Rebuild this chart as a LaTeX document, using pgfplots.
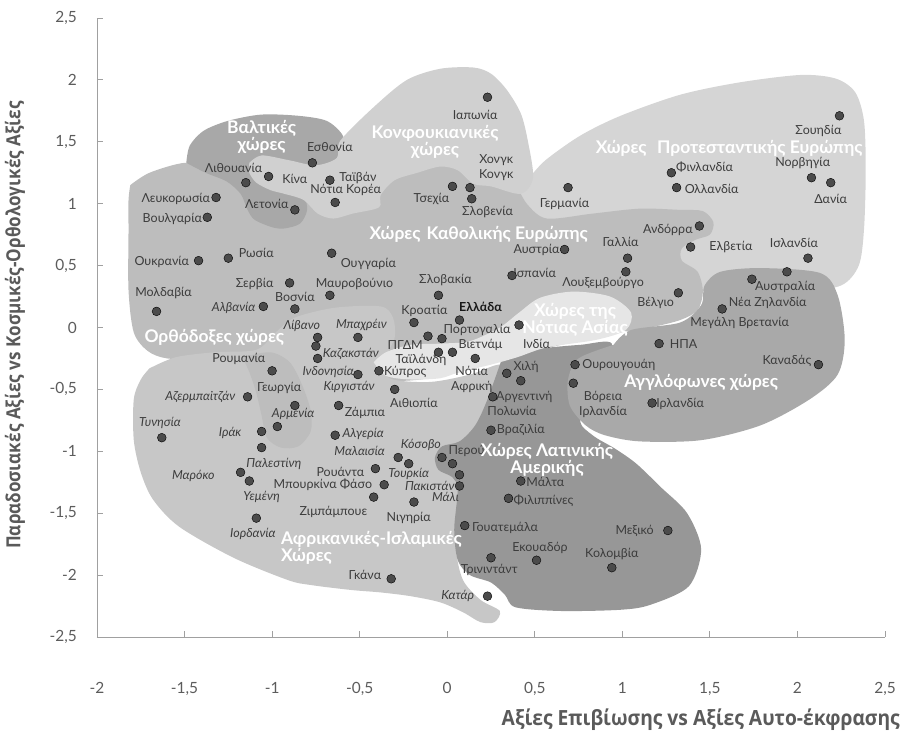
\documentclass[border=0pt]{standalone}
\usepackage{fontspec}
\setmainfont{Lato}
\newfontfamily\condfontx[FakeStretch=0.92]{Open Sans}
\newfontfamily\condfonty[FakeStretch=0.88]{Open Sans}
\usepackage{pgfplots}
\pgfplotsset{compat=1.18}
\definecolor{protc}{HTML}{D5D5D5}
\definecolor{confc}{HTML}{D0D0D0}
\definecolor{basec}{HTML}{BDBDBD}
\definecolor{baltc}{HTML}{A8A8A8}
\definecolor{afrc}{HTML}{C7C7C7}
\definecolor{latc}{HTML}{979797}
\definecolor{engc}{HTML}{A9A9A9}
\definecolor{sasc}{HTML}{E6E6E6}
\definecolor{dotc}{HTML}{4B4B4B}
\definecolor{labc}{HTML}{3C3C3C}
\definecolor{titc}{HTML}{5A5A5A}
\definecolor{axc}{HTML}{A0A0A0}
\definecolor{ticc}{HTML}{5C5C5C}
\newcommand{\lb}[3][]{\node[lbl,#1] at (axis cs:#2) {#3};}
\begin{document}
\begin{tikzpicture}[
  lbl/.style={font=\fontsize{12.5}{14.5}\selectfont, text=labc, inner sep=0pt, align=center},
  it/.style={font=\itshape\fontsize{12.5}{14.5}\selectfont},
  reg/.style={font=\bfseries\fontsize{17.5}{17}\selectfont, text=white, inner sep=0pt, align=center}]
\useasboundingbox (-97bp,-98bp) rectangle (806bp,637bp);
\begin{axis}[
  at={(0,0)}, anchor=south west, scale only axis,
  width=788bp, height=619bp,
  xmin=-2, xmax=2.5, ymin=-2.5, ymax=2.5,
  axis x line=bottom, axis y line=left,
  axis line style={-, draw=axc, line width=0.9bp},
  every tick/.style={draw=axc, line width=0.9bp},
  major tick length=6bp, tick align=inside,
  xtick={-2,-1.5,-1,-0.5,0,0.5,1,1.5,2,2.5},
  ytick={-2.5,-2,-1.5,-1,-0.5,0,0.5,1,1.5,2,2.5},
  xticklabel={\pgfmathprintnumber[assume math mode=true,use comma]{\tick}},
  yticklabel={\pgfmathprintnumber[assume math mode=true,use comma]{\tick}},
  tick label style={font=\fontsize{15.5}{16}\selectfont, text=ticc},
  yticklabel style={anchor=east, inner sep=0pt, xshift=-20bp},
  xticklabel style={anchor=north, inner sep=0pt, yshift=-45bp},
  clip=false,
]
% Protestant Europe
\addplot[draw=none, fill=protc, smooth] coordinates {
(0.47,1.21) (0.56,1.35) (0.76,1.55) (0.99,1.71) (1.33,1.88) (1.67,1.98) (2.02,2.04) (2.22,2.01) (2.33,1.90) (2.38,1.67) (2.39,1.27) (2.38,0.79) (2.35,0.50) (2.25,0.34) (2.02,0.29) (1.67,0.29) (1.45,0.30) (1.10,0.54) (0.65,0.71) (0.42,0.91) (0.39,1.07) (0.47,1.21)} -- cycle;
% Orthodox / Catholic base
\addplot[draw=none, fill=basec, smooth] coordinates {
(-1.81,1.15) (-1.70,1.25) (-1.50,1.33) (-1.33,1.29) (-1.13,1.25) (-0.84,1.19) (-0.61,1.19) (-0.38,1.25) (-0.04,1.33) (0.30,1.29) (0.39,1.15) (0.46,0.99) (0.57,0.88) (0.83,0.92) (1.10,0.96) (1.33,0.95) (1.46,0.94) (1.52,0.85) (1.50,0.75) (1.42,0.71) (1.34,0.64) (1.34,0.54) (1.43,0.45) (1.46,0.29) (1.43,0.14) (1.33,0.06) (1.16,0.00) (0.99,-0.04) (0.65,-0.14) (0.33,-0.25) (0.13,-0.34) (-0.15,-0.42) (-0.38,-0.42) (-0.67,-0.28) (-1.09,-0.20) (-1.24,-0.23) (-1.41,-0.25) (-1.60,-0.25) (-1.71,-0.19) (-1.79,-0.04) (-1.82,0.30) (-1.82,0.79) (-1.82,1.03) (-1.81,1.15)} -- cycle;
% Baltic
\addplot[draw=none, fill=baltc, smooth] coordinates {
(-1.49,1.33) (-1.47,1.47) (-1.39,1.59) (-1.25,1.67) (-1.06,1.72) (-0.85,1.71) (-0.69,1.67) (-0.60,1.56) (-0.58,1.43) (-0.61,1.31) (-0.73,1.25) (-0.81,1.11) (-0.80,0.95) (-0.84,0.84) (-0.93,0.80) (-1.00,0.81) (-1.10,0.87) (-1.14,0.95) (-1.18,1.08) (-1.26,1.18) (-1.38,1.25) (-1.49,1.33)} -- cycle;
% Confucian
\addplot[draw=none, fill=confc, smooth] coordinates {
(-1.13,1.33) (-1.06,1.39) (-0.90,1.35) (-0.75,1.31) (-0.63,1.37) (-0.61,1.51) (-0.42,1.78) (-0.23,2.00) (-0.04,2.09) (0.15,2.10) (0.25,2.05) (0.34,1.92) (0.42,1.73) (0.46,1.51) (0.49,1.21) (0.42,1.08) (0.25,1.14) (0.15,1.16) (0.06,1.27) (-0.04,1.30) (-0.17,1.25) (-0.30,1.19) (-0.38,1.07) (-0.39,0.97) (-0.54,0.92) (-0.65,0.88) (-0.74,0.92) (-0.82,1.03) (-0.93,1.08) (-1.01,1.11) (-1.09,1.17) (-1.13,1.25) (-1.13,1.33)} -- cycle;
% African-Islamic
\addplot[draw=none, fill=afrc, smooth] coordinates {
(-1.70,-0.33) (-1.55,-0.24) (-1.33,-0.20) (-1.09,-0.18) (-0.98,-0.04) (-0.87,0.08) (-0.64,0.16) (-0.38,0.17) (-0.31,0.08) (-0.30,-0.08) (-0.35,-0.25) (-0.33,-0.41) (-0.10,-0.44) (0.13,-0.38) (0.30,-0.30) (0.33,-0.42) (0.25,-0.67) (0.16,-0.91) (0.09,-1.15) (0.06,-1.47) (0.05,-1.79) (0.09,-2.04) (0.19,-2.20) (0.30,-2.29) (0.27,-2.38) (0.19,-2.38) (0.09,-2.30) (-0.04,-2.22) (-0.21,-2.17) (-0.38,-2.14) (-0.55,-2.12) (-0.78,-2.08) (-0.91,-2.04) (-1.22,-1.86) (-1.53,-1.61) (-1.68,-1.39) (-1.75,-1.17) (-1.79,-0.91) (-1.79,-0.58) (-1.75,-0.42) (-1.70,-0.33)} -- cycle;
% Orthodox lobe (Georgia, Armenia)
\addplot[draw=none, fill=basec, smooth] coordinates {
(-1.17,-0.24) (-1.01,-0.20) (-0.90,-0.28) (-0.83,-0.46) (-0.78,-0.67) (-0.78,-0.84) (-0.85,-0.96) (-0.95,-0.97) (-1.03,-0.89) (-1.06,-0.71) (-1.09,-0.53) (-1.13,-0.36) (-1.17,-0.24)} -- cycle;
% Latin America
\addplot[draw=none, fill=latc, smooth] coordinates {
(0.32,-0.22) (0.53,-0.17) (0.76,-0.14) (0.94,-0.13) (0.87,-0.42) (0.76,-0.74) (0.83,-0.87) (0.96,-0.98) (1.08,-1.10) (1.22,-1.29) (1.37,-1.50) (1.45,-1.79) (1.38,-2.09) (1.16,-2.24) (0.99,-2.28) (0.65,-2.29) (0.39,-2.26) (0.33,-2.16) (0.25,-2.06) (0.13,-2.00) (0.06,-1.88) (0.04,-1.63) (0.06,-1.31) (0.03,-1.21) (-0.05,-1.15) (-0.07,-1.05) (-0.03,-0.96) (0.07,-0.92) (0.16,-0.79) (0.23,-0.58) (0.32,-0.22)} -- cycle;
% English-speaking
\addplot[draw=none, fill=engc, smooth] coordinates {
(0.95,-0.14) (1.05,-0.02) (1.33,0.04) (1.45,0.18) (1.47,0.34) (1.56,0.45) (1.79,0.48) (2.13,0.44) (2.23,0.26) (2.27,-0.10) (2.23,-0.38) (2.07,-0.58) (1.79,-0.79) (1.45,-0.91) (1.10,-0.92) (0.90,-0.87) (0.79,-0.79) (0.70,-0.63) (0.69,-0.42) (0.75,-0.25) (0.95,-0.14)} -- cycle;
% South Asia
\addplot[draw=none, fill=sasc, smooth] coordinates {
(-0.42,-0.28) (-0.35,-0.20) (-0.21,-0.14) (-0.04,-0.13) (0.13,-0.11) (0.30,0.00) (0.41,0.12) (0.53,0.24) (0.72,0.29) (0.93,0.25) (1.05,0.12) (1.02,-0.02) (0.85,-0.10) (0.57,-0.16) (0.40,-0.24) (0.25,-0.30) (0.07,-0.36) (-0.04,-0.41) (-0.21,-0.42) (-0.35,-0.39) (-0.42,-0.28)} -- cycle;
% Countries
\addplot[only marks, mark=*, mark size=4.4bp, mark options={fill=dotc, draw=none}] coordinates {
(2.24,1.71) (1.28,1.25) (1.31,1.13) (2.08,1.21) (2.19,1.17) (1.44,0.82) (1.39,0.65) (2.06,0.56) (1.74,0.39) (1.94,0.45) (1.57,0.15) (1.32,0.28) (1.21,-0.13) (2.12,-0.30) (1.17,-0.61) (0.73,-0.30) (0.72,-0.45) (0.23,1.86) (0.13,1.13) (0.03,1.14) (0.14,1.04) (0.69,1.13) (0.67,0.63) (1.03,0.56) (0.37,0.42) (1.02,0.45) (-0.77,1.33) (-1.15,1.17) (-1.02,1.22) (-0.67,1.19) (-0.64,1.01) (-1.32,1.05) (-1.37,0.89) (-0.87,0.95) (-1.42,0.54) (-1.25,0.56) (-0.66,0.60) (-0.90,0.36) (-0.67,0.26) (-1.66,0.13) (-1.05,0.17) (-0.87,0.15) (-0.74,-0.08) (-0.75,-0.15) (-0.74,-0.25) (-0.51,-0.08) (-1.00,-0.35) (-0.51,-0.38) (-0.39,-0.35) (-0.30,-0.50) (-1.14,-0.56) (-0.87,-0.63) (-0.62,-0.63) (-0.97,-0.80) (-1.06,-0.84) (-0.64,-0.87) (-1.63,-0.89) (-1.06,-0.97) (-1.18,-1.17) (-1.13,-1.24) (-1.09,-1.54) (-0.28,-1.05) (-0.22,-1.10) (-0.41,-1.14) (-0.36,-1.27) (-0.42,-1.37) (-0.19,-1.41) (-0.03,-1.05) (0.03,-1.10) (0.07,-1.19) (0.07,-1.28) (-0.32,-2.03) (0.23,-2.17) (0.10,-1.60) (0.25,-1.86) (0.51,-1.88) (0.94,-1.94) (1.26,-1.64) (0.42,-1.24) (0.35,-1.38) (0.25,-0.83) (0.26,-0.56) (0.42,-0.43) (0.34,-0.37) (0.16,-0.25) (0.41,0.02) (0.03,-0.20) (-0.05,-0.20) (-0.03,-0.09) (-0.11,-0.07) (-0.19,0.04) (0.07,0.06) (-0.05,0.26)};
% Country labels
\lb{2.12,1.59}{Σουηδία}
\lb{1.47,1.30}{Φινλανδία}
\lb{1.51,1.12}{Ολλανδία}
\lb{2.03,1.33}{Νορβηγία}
\lb{2.19,1.04}{Δανία}
\lb{1.26,0.79}{Ανδόρρα}
\lb{1.62,0.65}{Ελβετία}
\lb{1.98,0.68}{Ισλανδία}
\lb{1.93,0.33}{Αυστραλία}
\lb{1.83,0.20}{Νέα Ζηλανδία}
\lb{1.67,0.04}{Μεγάλη Βρετανία}
\lb{1.19,0.20}{Βέλγιο}
\lb{1.35,-0.13}{ΗΠΑ}
\lb{1.94,-0.27}{Καναδάς}
\lb{1.33,-0.62}{Ιρλανδία}
\lb{0.98,-0.30}{Ουρουγουάη}
\lb{0.89,-0.62}{Βόρεια\\Ιρλανδία}
\lb{0.16,1.72}{Ιαπωνία}
\lb{0.28,1.29}{Χονγκ\\Κονγκ}
\lb{-0.09,1.04}{Τσεχία}
\lb{0.23,0.93}{Σλοβενία}
\lb{0.67,1.00}{Γερμανία}
\lb{0.51,0.63}{Αυστρία}
\lb{0.99,0.69}{Γαλλία}
\lb{0.50,0.44}{Ισπανία}
\lb{0.89,0.36}{Λουξεμβούργο}
\lb{-0.67,1.46}{Εσθονία}
\lb{-1.22,1.29}{Λιθουανία}
\lb{-0.87,1.20}{Κίνα}
\lb{-0.51,1.21}{Ταϊβάν}
\lb{-0.58,1.11}{Νότια Κορέα}
\lb{-1.55,1.04}{Λευκορωσία}
\lb{-1.57,0.88}{Βουλγαρία}
\lb{-1.03,1.00}{Λετονία}
\lb{-1.63,0.53}{Ουκρανία}
\lb{-1.09,0.60}{Ρωσία}
\lb{-0.45,0.51}{Ουγγαρία}
\lb{-1.10,0.35}{Σερβία}
\lb{-0.53,0.35}{Μαυροβούνιο}
\lb{-1.62,0.28}{Μολδαβία}
\lb[it]{-1.22,0.16}{Αλβανία}
\lb{-0.87,0.25}{Βοσνία}
\lb[it]{-0.83,0.01}{Λίβανο}
\lb[it]{-0.49,0.02}{Μπαχρέιν}
\lb[it]{-0.55,-0.21}{Καζακστάν}
\lb[it]{-0.68,-0.36}{Ινδονησία}
\lb[it]{-0.56,-0.48}{Κιργιστάν}
\lb{-1.19,-0.25}{Ρουμανία}
\lb{-0.24,-0.36}{Κύπρος}
\lb{-0.19,-0.61}{Αιθιοπία}
\lb{-0.96,-0.49}{Γεωργία}
\lb{-0.47,-0.69}{Ζάμπια}
\lb[it]{-1.41,-0.56}{Αζερμπαϊτζάν}
\lb[it]{-0.88,-0.70}{Αρμενία}
\lb[it]{-1.64,-0.77}{Τυνησία}
\lb[it]{-1.24,-0.85}{Ιράκ}
\lb[it]{-0.48,-0.86}{Αλγερία}
\lb[it]{-0.50,-1.00}{Μαλαισία}
\lb[it]{-0.15,-0.95}{Κόσοβο}
\lb{0.11,-1.00}{Περού}
\lb[it]{-0.99,-1.10}{Παλεστίνη}
\lb[it]{-1.45,-1.20}{Μαρόκο}
\lb[it]{-1.06,-1.37}{Υεμένη}
\lb{-0.61,-1.17}{Ρουάντα}
\lb[it]{-0.22,-1.18}{Τουρκία}
\lb{-0.71,-1.27}{Μπουρκίνα Φάσο}
\lb[it]{-0.10,-1.28}{Πακιστάν}
\lb[it]{-0.01,-1.37}{Μάλι}
\lb{-0.65,-1.49}{Ζιμπάμπουε}
\lb{-0.22,-1.54}{Νιγηρία}
\lb[it]{-1.11,-1.67}{Ιορδανία}
\lb{-0.47,-2.00}{Γκάνα}
\lb[it]{0.06,-2.17}{Κατάρ}
\lb{0.33,-1.62}{Γουατεμάλα}
\lb{0.24,-1.96}{Τρινιντάντ}
\lb{0.53,-1.78}{Εκουαδόρ}
\lb{0.94,-1.83}{Κολομβία}
\lb{1.07,-1.64}{Μεξικό}
\lb{0.56,-1.25}{Μάλτα}
\lb{0.55,-1.40}{Φιλιππίνες}
\lb{0.42,-0.83}{Βραζιλία}
\lb{0.37,-0.67}{Πολωνία}
\lb{0.44,-0.56}{Αργεντινή}
\lb{0.45,-0.32}{Χιλή}
\lb{0.14,-0.42}{Νότια\\Αφρική}
\lb{0.51,-0.13}{Ινδία}
\lb{0.19,-0.14}{Βιετνάμ}
\lb{-0.15,-0.26}{Ταϊλάνδη}
\lb{0.17,-0.02}{Πορτογαλία}
\lb{-0.24,-0.14}{ΠΓΔΜ}
\lb{-0.13,0.13}{Κροατία}
\lb[font=\bfseries\fontsize{12.5}{14.5}\selectfont, text=black!90]{0.19,0.17}{Ελλάδα}
\lb{-0.01,0.38}{Σλοβακία}
% Region labels
\node[reg] at (axis cs:-1.06,1.54) {Βαλτικές\\χώρες};
\node[reg] at (axis cs:-0.07,1.50) {Κονφουκιανικές\\χώρες};
\node[reg] at (axis cs:1.61,1.45) {Χώρες\hspace{0.6em}Προτεσταντικής Ευρώπης};
\node[reg] at (axis cs:0.18,0.75) {Χώρες\hspace{0.35em}Καθολικής Ευρώπης};
\node[reg] at (axis cs:0.73,0.06) {Χώρες της\\Νότιας Ασίας};
\node[reg] at (axis cs:-1.33,-0.08) {Ορθόδοξες χώρες};
\node[reg] at (axis cs:1.45,-0.44) {Αγγλόφωνες χώρες};
\node[reg] at (axis cs:0.57,-1.07) {Χώρες Λατινικής\\Αμερικής};
\node[reg, anchor=west, align=left] at (axis cs:-0.95,-1.78) {Αφρικανικές-Ισλαμικές\\Χώρες};
\end{axis}
\node[anchor=east, inner sep=0pt, font=\condfontx\bfseries\fontsize{21}{22}\selectfont, text=titc] at (803bp,-83bp) {Αξίες Επιβίωσης vs Αξίες Αυτο-έκφρασης};
\node[rotate=90, inner sep=0pt, font=\condfonty\bfseries\fontsize{19.5}{20}\selectfont, text=titc] at (-82bp,312bp) {Παραδοσιακές Αξίες vs Κοσμικές-Ορθολογικές Αξίες};
\end{tikzpicture}
\end{document}
